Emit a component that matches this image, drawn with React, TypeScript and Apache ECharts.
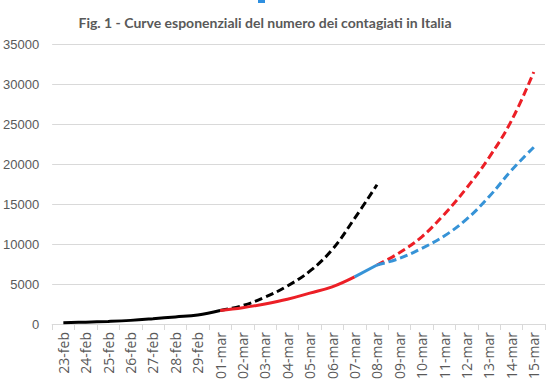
import React, { useEffect, useRef } from "react";
import * as echarts from "echarts";

const categories = [
  "23-feb", "24-feb", "25-feb", "26-feb", "27-feb", "28-feb", "29-feb",
  "01-mar", "02-mar", "03-mar", "04-mar", "05-mar", "06-mar", "07-mar",
  "08-mar", "09-mar", "10-mar", "11-mar", "12-mar", "13-mar", "14-mar", "15-mar",
];

// actual cases 23-feb .. 01-mar (black solid)
const actualStart = 0;
const actualValues = [155, 229, 322, 453, 655, 888, 1128, 1694];
// actual cases 01-mar .. 07-mar (red solid)
const redSolidStart = 7;
const redSolidValues = [1694, 2036, 2502, 3089, 3858, 4636, 5883];
// actual cases 07-mar .. 08-mar (blue solid)
const blueSolidStart = 13;
const blueSolidValues = [5883, 7375];
// projection from 01-mar (black dashed)
const blackProjStart = 7;
const blackProjValues = [1694, 2300, 3350, 4750, 6600, 9300, 13200, 17400];
// projection from 08-mar (red dashed)
const redProjStart = 14;
const redProjValues = [7375, 8900, 10900, 13700, 17000, 20800, 25400, 31500];
// projection from 08-mar (blue dashed)
const blueProjStart = 14;
const blueProjValues = [7375, 8200, 9450, 11000, 13100, 15900, 19200, 22100];

const yTicks = { min: 0, max: 35000, interval: 5000 };

function pad(start: number, values: number[]): (number | null)[] {
  return categories.map((_, i) =>
    i >= start && i < start + values.length ? values[i - start] : null
  );
}

const RED = "#ec1f26";
const BLUE = "#3693d7";
const BLACK = "#000000";

export default function App() {
  const ref = useRef<HTMLDivElement>(null);
  useEffect(() => {
    if (!ref.current) return;
    const chart = echarts.init(ref.current, undefined, { renderer: "svg" });
    const line = (
      name: string,
      data: (number | null)[],
      color: string,
      dashed: boolean,
      z: number
    ) => ({
      name,
      type: "line",
      data,
      smooth: 0.4,
      symbol: "none",
      z,
      lineStyle: {
        color,
        width: 3,
        type: dashed ? [8, 4] : "solid",
        cap: "butt",
      },
    });
    chart.setOption({
      animation: false,
      title: {
        text: "Fig. 1 - Curve esponenziali del numero dei contagiati in Italia",
        left: 260,
        top: 10,
        textAlign: "center",
        textStyle: {
          color: "#595959",
          fontSize: 14,
          fontWeight: "bold",
          fontFamily: "Lato",
        },
      },
      graphic: [
        {
          type: "rect",
          shape: { x: 258, y: 0, width: 7, height: 3 },
          style: { fill: "#2e8fe0" },
        },
      ],
      grid: { left: 50, right: 5, top: 44, bottom: 58 },
      xAxis: {
        type: "category",
        data: categories,
        boundaryGap: true,
        axisLine: { lineStyle: { color: "#d9d9d9", width: 1 } },
        axisTick: { show: true, length: 6, lineStyle: { color: "#d9d9d9" } },
        axisLabel: {
          rotate: 90,
          interval: 0,
          margin: 8,
          color: "#595959",
          fontSize: 14,
          fontFamily: "Open Sans",
        },
      },
      yAxis: {
        type: "value",
        min: yTicks.min,
        max: yTicks.max,
        interval: yTicks.interval,
        axisLine: { show: false },
        axisTick: { show: false },
        splitLine: { lineStyle: { color: "#d9d9d9", width: 1 } },
        axisLabel: {
          color: "#595959",
          fontSize: 13,
          margin: 13,
          fontFamily: "Liberation Sans",
          formatter: (v: number) => String(v),
        },
      },
      series: [
        line("proiezione 01-mar", pad(blackProjStart, blackProjValues), BLACK, true, 2),
        line("contagiati", pad(actualStart, actualValues), BLACK, false, 3),
        line("contagiati mar", pad(redSolidStart, redSolidValues), RED, false, 4),
        line("contagiati 08-mar", pad(blueSolidStart, blueSolidValues), BLUE, false, 5),
        line("proiezione rossa", pad(redProjStart, redProjValues), RED, true, 6),
        line("proiezione blu", pad(blueProjStart, blueProjValues), BLUE, true, 7),
      ],
    });
    return () => chart.dispose();
  }, []);
  return <div ref={ref} style={{ width: 550, height: 382, position: "absolute", left: 0, top: 0 }} />;
}
